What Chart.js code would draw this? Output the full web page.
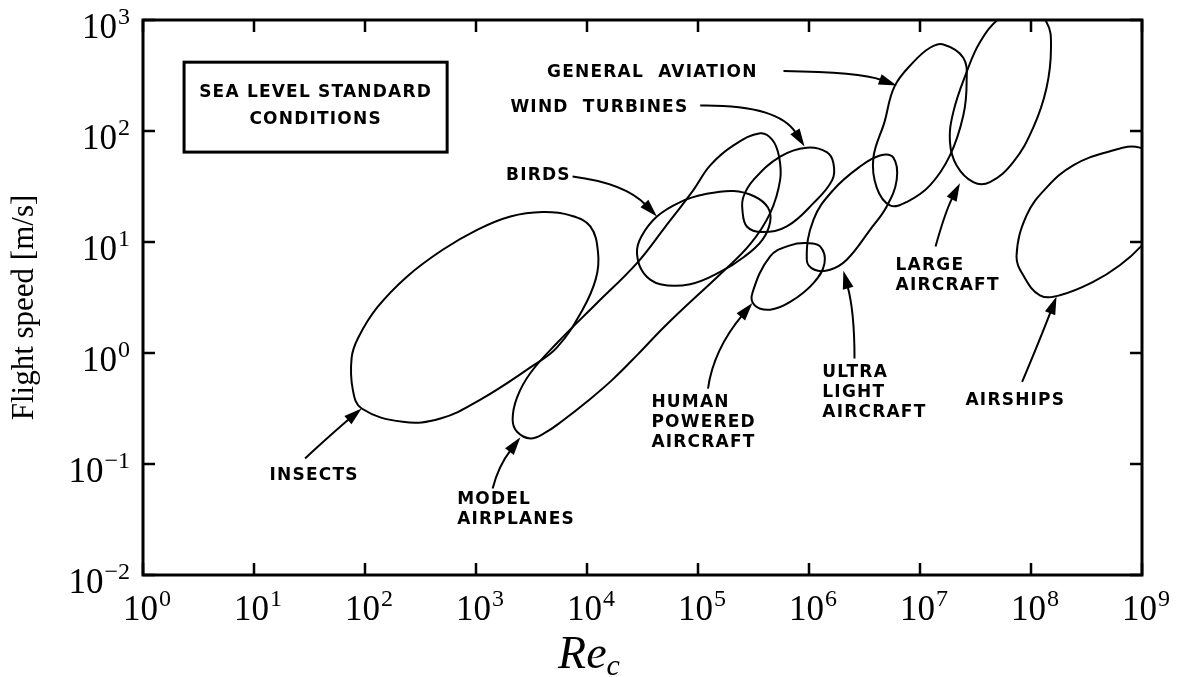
<!DOCTYPE html>
<html>
<head>
<meta charset="utf-8">
<script src="https://cdn.jsdelivr.net/npm/chart.js@4.4.1/dist/chart.umd.min.js"></script>
<style>
  html, body { margin: 0; padding: 0; background: #fff; }
</style>
</head>
<body>
<canvas id="flightChart" width="1180" height="677"></canvas>
<script>
// region outlines, as [log10(Re_c), log10(speed m/s)]
const insects = [
  [3.01, 1.11], [2.70, 0.93], [2.38, 0.69], [2.11, 0.41], [1.94, 0.14], [1.88, -0.04],
  [1.89, -0.33], [1.97, -0.50], [2.34, -0.62], [2.68, -0.59], [3.04, -0.42], [3.49, -0.13],
  [3.73, 0.05], [3.96, 0.39], [4.08, 0.67], [4.10, 0.90], [4.03, 1.14], [3.85, 1.24],
  [3.60, 1.27], [3.31, 1.23],
];
const modelAirplanes = [
  [5.56, 1.98], [5.67, 1.92], [5.73, 1.77], [5.74, 1.56], [5.65, 1.26], [5.47, 0.98],
  [5.20, 0.71], [4.93, 0.46], [4.69, 0.23], [4.46, -0.01], [4.23, -0.24], [4.01, -0.43],
  [3.78, -0.61], [3.62, -0.72], [3.49, -0.77], [3.37, -0.71], [3.33, -0.60], [3.37, -0.40],
  [3.49, -0.18], [3.73, 0.09], [4.09, 0.45], [4.45, 0.81], [4.70, 1.13], [4.96, 1.47],
  [5.11, 1.69], [5.32, 1.87],
];
const birds = [
  [5.06, 1.43], [5.32, 1.46], [5.51, 1.41], [5.63, 1.31], [5.65, 1.18], [5.58, 1.02],
  [5.42, 0.87], [5.20, 0.73], [4.93, 0.62], [4.66, 0.62], [4.51, 0.72], [4.45, 0.90],
  [4.49, 1.05], [4.63, 1.23], [4.84, 1.36],
];
const windTurbines = [
  [5.80, 1.14], [6.04, 1.35], [6.21, 1.56], [6.22, 1.71], [6.16, 1.81], [5.98, 1.85],
  [5.74, 1.77], [5.50, 1.56], [5.41, 1.41], [5.40, 1.29], [5.44, 1.14], [5.58, 1.09],
];
const humanPowered = [
  [5.83, 0.97], [5.98, 0.99], [6.10, 0.96], [6.14, 0.81], [6.04, 0.63], [5.83, 0.46],
  [5.65, 0.39], [5.51, 0.43], [5.49, 0.54], [5.65, 0.87],
];
const ultraLight = [
  [6.46, 1.68], [6.64, 1.78], [6.76, 1.76], [6.79, 1.56], [6.70, 1.32], [6.55, 1.11],
  [6.34, 0.84], [6.19, 0.75], [6.05, 0.75], [5.98, 0.84], [6.04, 1.20], [6.22, 1.47],
];
const generalAviation = [
  [7.21, 2.78], [7.39, 2.66], [7.42, 2.44], [7.39, 2.14], [7.27, 1.78], [7.09, 1.51],
  [6.88, 1.36], [6.73, 1.33], [6.61, 1.49], [6.58, 1.76], [6.68, 2.08], [6.77, 2.40],
  [6.94, 2.62], [7.09, 2.75],
];
const largeAircraft = [
  [7.30, 2.17], [7.27, 1.90], [7.33, 1.69], [7.48, 1.54], [7.63, 1.54], [7.84, 1.72],
  [8.02, 2.03], [8.14, 2.39], [8.18, 2.75], [8.14, 2.98], [7.95, 3.14], [7.72, 3.02],
  [7.54, 2.80], [7.42, 2.53],
];
const airships = [
  [8.38, 1.69], [8.69, 1.81], [8.98, 1.85], [9.21, 1.65], [9.21, 1.24], [9.00, 0.97],
  [8.80, 0.79], [8.56, 0.64], [8.26, 0.52], [8.08, 0.52], [7.93, 0.70], [7.87, 0.88],
  [7.96, 1.24], [8.14, 1.49],
];

const regions = [insects, modelAirplanes, birds, windTurbines, humanPowered,
  ultraLight, generalAviation, largeAircraft, airships];

// decade exponents used for ticks and tick labels
const xExponents = [0, 1, 2, 3, 4, 5, 6, 7, 8, 9];
const yExponents = [-2, -1, 0, 1, 2, 3];

// callouts: text lines, anchor [log Re, log V] of first line (left, middle)
const callouts = [
  {lines: ['GENERAL  AVIATION'], at: [3.64, 2.53]},
  {lines: ['WIND  TURBINES'], at: [3.31, 2.21]},
  {lines: ['BIRDS'], at: [3.27, 1.60]},
  {lines: ['INSECTS'], at: [1.14, -1.10]},
  {lines: ['MODEL', 'AIRPLANES'], at: [2.83, -1.32]},
  {lines: ['HUMAN', 'POWERED', 'AIRCRAFT'], at: [4.58, -0.45]},
  {lines: ['ULTRA', 'LIGHT', 'AIRCRAFT'], at: [6.12, -0.18]},
  {lines: ['LARGE', 'AIRCRAFT'], at: [6.78, 0.79]},
  {lines: ['AIRSHIPS'], at: [7.41, -0.43]},
];
// arrows: start, control, tip
const arrows = [
  [[5.77, 2.54], [6.46, 2.53], [6.79, 2.41]],
  [[5.02, 2.23], [5.72, 2.24], [5.96, 1.86]],
  [[3.87, 1.59], [4.34, 1.53], [4.63, 1.23]],
  [[1.46, -0.95], [1.71, -0.72], [1.97, -0.50]],
  [[3.15, -1.22], [3.20, -1.02], [3.40, -0.76]],
  [[5.09, -0.32], [5.14, 0.03], [5.49, 0.45]],
  [[6.41, -0.05], [6.41, 0.37], [6.31, 0.74]],
  [[7.14, 0.96], [7.23, 1.28], [7.36, 1.53]],
  [[7.92, -0.26], [8.08, 0.12], [8.23, 0.51]],
];
const seaLevelBox = {from: [0.37, 2.62], to: [2.74, 1.81], lines: ['SEA LEVEL STANDARD', 'CONDITIONS']};

// closed loop: wrap neighbours on both ends so the spline has no seam,
// the two wrap segments are drawn transparent
const toLoop = arr => {
  const pts = arr.map(([a, b]) => ({x: 10 ** a, y: 10 ** b}));
  return [pts[pts.length - 1], ...pts, pts[0], pts[1]];
};

const serif = '"Liberation Serif", "Times New Roman", serif';
const stencil = '"DejaVu Sans", sans-serif';

const decorPlugin = {
  id: 'decor',
  afterDraw(chart) {
    const {ctx, chartArea: area, scales} = chart;
    const px = v => scales.x.getPixelForValue(10 ** v);
    const py = v => scales.y.getPixelForValue(10 ** v);
    ctx.save();
    ctx.strokeStyle = '#000';
    ctx.fillStyle = '#000';

    // frame and inward ticks
    ctx.lineWidth = 3;
    ctx.strokeRect(area.left, area.top, area.right - area.left, area.bottom - area.top);
    ctx.lineWidth = 2.5;
    ctx.beginPath();
    xExponents.forEach(e => {
      const xp = px(e);
      ctx.moveTo(xp, area.bottom);
      ctx.lineTo(xp, area.bottom - 12);
      ctx.moveTo(xp, area.top);
      ctx.lineTo(xp, area.top + 12);
    });
    yExponents.forEach(e => {
      const yp = py(e);
      ctx.moveTo(area.left, yp);
      ctx.lineTo(area.left + 12, yp);
      ctx.moveTo(area.right, yp);
      ctx.lineTo(area.right - 12, yp);
    });
    ctx.stroke();

    // 10^n labels
    const drawPower = (exp, xPos, baseY, align) => {
      const sup = exp < 0 ? '\u2212' + Math.abs(exp) : String(exp);
      ctx.font = '35px ' + serif;
      const wb = ctx.measureText('10').width;
      ctx.font = '24px ' + serif;
      const ws = ctx.measureText(sup).width;
      const total = wb + 1 + ws;
      const left = align === 'center' ? xPos - total / 2 : xPos - total;
      ctx.textAlign = 'left';
      ctx.textBaseline = 'alphabetic';
      ctx.font = '35px ' + serif;
      ctx.fillText('10', left, baseY);
      ctx.font = '24px ' + serif;
      ctx.fillText(sup, left + wb + 1, baseY - 14);
    };
    xExponents.forEach(e => drawPower(e, px(e) + 4, area.bottom + 45, 'center'));
    yExponents.forEach(e => drawPower(e, area.left - 13, py(e) + 18, 'right'));

    // axis titles
    ctx.save();
    ctx.translate(25, (area.top + area.bottom) / 2 + 10);
    ctx.rotate(-Math.PI / 2);
    ctx.font = '31px ' + serif;
    ctx.textAlign = 'center';
    ctx.textBaseline = 'middle';
    ctx.fillText('Flight speed [m/s]', 0, 0);
    ctx.restore();

    ctx.font = 'italic 46px ' + serif;
    const wRe = ctx.measureText('Re').width;
    ctx.font = 'italic 30px ' + serif;
    const wc = ctx.measureText('c').width;
    const titleLeft = 589 - (wRe + wc) / 2;
    ctx.textAlign = 'left';
    ctx.textBaseline = 'alphabetic';
    ctx.font = 'italic 46px ' + serif;
    ctx.fillText('Re', titleLeft, 668);
    ctx.font = 'italic 30px ' + serif;
    ctx.fillText('c', titleLeft + wRe, 675);

    // boxed note
    const bx0 = px(seaLevelBox.from[0]), by0 = py(seaLevelBox.from[1]);
    const bx1 = px(seaLevelBox.to[0]), by1 = py(seaLevelBox.to[1]);
    ctx.lineWidth = 3;
    ctx.strokeRect(bx0, by0, bx1 - bx0, by1 - by0);
    ctx.font = 'bold 17px ' + stencil;
    ctx.letterSpacing = '1.2px';
    ctx.textAlign = 'center';
    ctx.textBaseline = 'middle';
    ctx.fillText(seaLevelBox.lines[0], (bx0 + bx1) / 2, by0 + 30);
    ctx.fillText(seaLevelBox.lines[1], (bx0 + bx1) / 2, by0 + 57);

    // callout text
    ctx.textAlign = 'left';
    callouts.forEach(c => {
      const lx = px(c.at[0]);
      const ly = py(c.at[1]);
      c.lines.forEach((t, i) => ctx.fillText(t, lx, ly + i * 20));
    });
    ctx.letterSpacing = '0px';

    // arrows
    arrows.forEach(([s, c, e]) => {
      const sx = px(s[0]), sy = py(s[1]);
      const cx = px(c[0]), cy = py(c[1]);
      const ex = px(e[0]), ey = py(e[1]);
      const ang = Math.atan2(ey - cy, ex - cx);
      const headLen = 18, headHalf = 5.5;
      const bx = ex - Math.cos(ang) * (headLen - 2);
      const by = ey - Math.sin(ang) * (headLen - 2);
      ctx.lineWidth = 2;
      ctx.beginPath();
      ctx.moveTo(sx, sy);
      ctx.quadraticCurveTo(cx, cy, bx, by);
      ctx.stroke();
      ctx.beginPath();
      ctx.moveTo(ex, ey);
      ctx.lineTo(ex - Math.cos(ang) * headLen - Math.sin(ang) * headHalf,
                 ey - Math.sin(ang) * headLen + Math.cos(ang) * headHalf);
      ctx.lineTo(ex - Math.cos(ang) * headLen + Math.sin(ang) * headHalf,
                 ey - Math.sin(ang) * headLen - Math.cos(ang) * headHalf);
      ctx.closePath();
      ctx.fill();
    });
    ctx.restore();
  },
};

const ctxChart = document.getElementById('flightChart');
new Chart(ctxChart, {
  type: 'scatter',
  data: {
    datasets: regions.map(r => {
      const data = toLoop(r);
      const last = data.length - 1;
      return {
        data,
        showLine: true,
        borderColor: '#000',
        borderWidth: 2,
        pointRadius: 0,
        tension: 0.4,
        fill: false,
        segment: {
          borderColor: s => (s.p0DataIndex === 0 || s.p1DataIndex === last) ? 'rgba(0,0,0,0)' : '#000',
        },
      };
    }),
  },
  options: {
    responsive: false,
    animation: false,
    devicePixelRatio: 1,
    layout: {padding: {left: 143, right: 38, top: 20, bottom: 102}},
    plugins: {legend: {display: false}, tooltip: {enabled: false}},
    scales: {
      x: {type: 'logarithmic', min: 1, max: 1e9, display: false},
      y: {type: 'logarithmic', min: 0.01, max: 1000, display: false},
    },
  },
  plugins: [decorPlugin],
});
</script>
</body>
</html>
